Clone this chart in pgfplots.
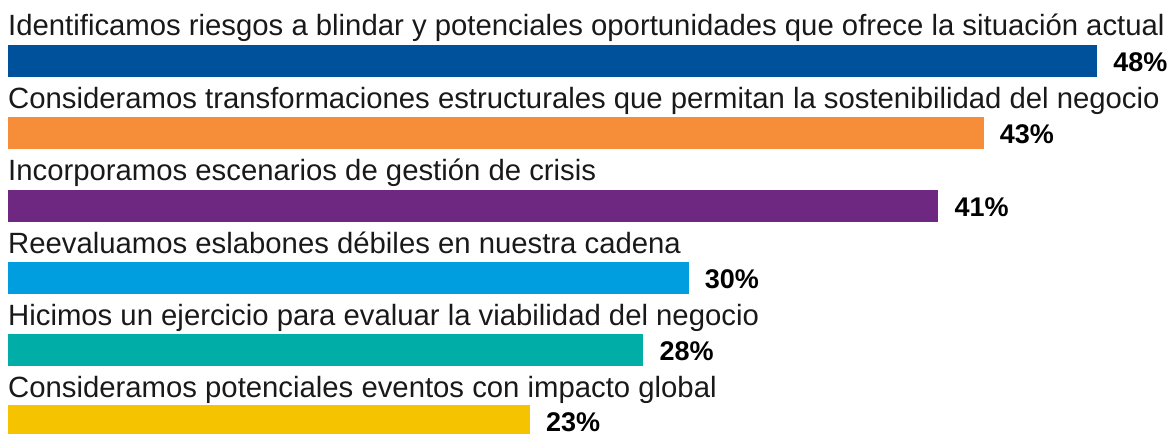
\documentclass[border=0pt]{standalone}
\usepackage{pgfplots}
\pgfplotsset{compat=1.18}
\usepackage{fontspec}
\setmainfont{Liberation Sans}
\definecolor{c1}{RGB}{0,81,155}
\definecolor{c2}{RGB}{246,141,57}
\definecolor{c3}{RGB}{111,40,130}
\definecolor{c4}{RGB}{0,158,222}
\definecolor{c5}{RGB}{0,174,167}
\definecolor{c6}{RGB}{246,195,0}
\definecolor{txt}{RGB}{25,25,25}
\begin{document}
\begin{tikzpicture}
\begin{axis}[
  at={(0,0)}, anchor=south west,
  scale only axis, width=1170bp, height=434bp,
  xmin=-0.3526, xmax=51.21, ymin=0, ymax=434, y dir=reverse,
  hide axis,
  every axis plot/.append style={xbar, bar width=32, bar shift=0pt, draw=none,
    point meta=explicit symbolic,
    nodes near coords={\pgfplotspointmeta\%},
    every node near coord/.style={anchor=base west, inner sep=0pt, xshift=16bp, yshift=-10.5bp,
      font=\fontsize{27bp}{27bp}\selectfont\bfseries, text=black}},
]
\addplot[fill=c1] coordinates {(48,61) [48]};
\addplot[fill=c2] coordinates {(43,133) [43]};
\addplot[fill=c3] coordinates {(41,205.5) [41]};
\addplot[fill=c4] coordinates {(30,277.5) [30]};
\addplot[fill=c5] coordinates {(28,350) [28]};
\addplot[fill=c6] coordinates {(23,421) [23]};
\begin{scope}[every node/.style={anchor=base west, inner sep=0pt, text=txt, font=\fontsize{29.3bp}{30bp}\selectfont}]
\node at (axis cs:0,36) {Identificamos riesgos a blindar y potenciales oportunidades que ofrece la situación actual};
\node at (axis cs:0,108.5) {Consideramos transformaciones estructurales que permitan la sostenibilidad del negocio};
\node at (axis cs:0,180.5) {Incorporamos escenarios de gestión de crisis};
\node at (axis cs:0,253) {Reevaluamos eslabones débiles en nuestra cadena};
\node at (axis cs:0,325) {Hicimos un ejercicio para evaluar la viabilidad del negocio};
\node at (axis cs:0,397) {Consideramos potenciales eventos con impacto global};
\end{scope}
\end{axis}
\pgfresetboundingbox
\path (0,0) rectangle (1170bp,434bp);
\end{tikzpicture}
\end{document}
